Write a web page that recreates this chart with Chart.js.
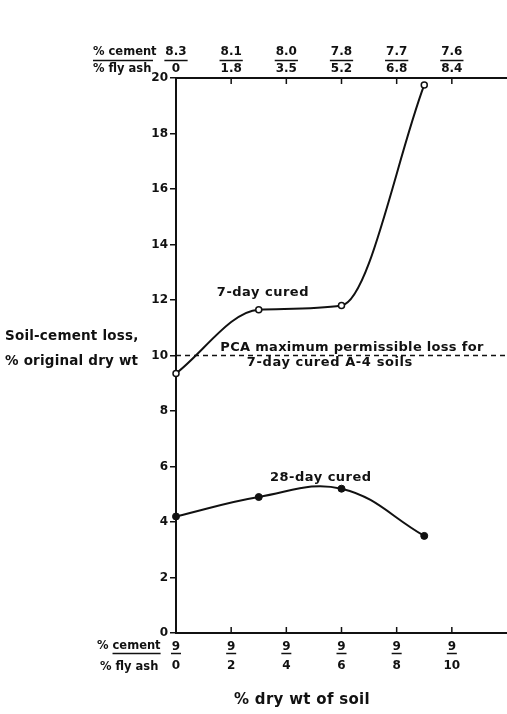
<!DOCTYPE html>
<html>
<head>
<meta charset="utf-8">
<script src="https://cdn.jsdelivr.net/npm/chart.js@4.4.1/dist/chart.umd.min.js"></script>
<style>
  html, body { margin: 0; padding: 0; background: #ffffff; }
  #wrap { width: 507px; height: 714px; }
</style>
</head>
<body>
<div id="wrap"><canvas id="c" width="507" height="714"></canvas></div>
<script>
// ---- data ----
const flyAshPercent = [0, 3, 6, 9];
const loss7Day = [9.35, 11.65, 11.8, 19.75];
const loss28Day = [4.2, 4.9, 5.2, 3.5];
const pcaLimit = 10;
const xTickValues = [0, 2, 4, 6, 8, 10];
const cementBottomLabels = ['9', '9', '9', '9', '9', '9'];
const flyAshBottomLabels = ['0', '2', '4', '6', '8', '10'];
const cementTopLabels = ['8.3', '8.1', '8.0', '7.8', '7.7', '7.6'];
const flyAshTopLabels = ['0', '1.8', '3.5', '5.2', '6.8', '8.4'];

const FONT = 'DejaVu Sans';
const INK = '#111111';

function pts(xs, ys) { return xs.map((x, i) => ({ x: x, y: ys[i] })); }

const textPlugin = {
  id: 'textPlugin',
  afterDraw(chart) {
    const ctx = chart.ctx;
    const xs = chart.scales.x, ys = chart.scales.y;
    const area = chart.chartArea;
    ctx.save();
    ctx.fillStyle = INK;
    ctx.strokeStyle = INK;

    // inner tick marks on top and bottom axes
    ctx.lineWidth = 1.5;
    xTickValues.forEach(v => {
      const px = xs.getPixelForValue(v);
      ctx.beginPath();
      ctx.moveTo(px, area.bottom); ctx.lineTo(px, area.bottom - 6);
      ctx.moveTo(px, area.top); ctx.lineTo(px, area.top + 6);
      ctx.stroke();
    });

    const txt = (s, x, y, size, align, spacing) => {
      ctx.font = 'bold ' + size + 'px "' + FONT + '"';
      ctx.letterSpacing = (spacing || 0) + 'px';
      ctx.textAlign = align || 'center';
      ctx.textBaseline = 'middle';
      ctx.fillText(s, x, y);
      return ctx.measureText(s).width;
    };

    // y-axis title
    txt('Soil-cement loss,', 5, 336, 13.5, 'left', 0.2);
    txt('% original dry wt', 5, 361, 13.5, 'left', 0.2);

    // curve annotations (anchored in data space)
    txt('7-day cured', xs.getPixelForValue(3.15), ys.getPixelForValue(12.25), 13, 'center', 0.5);
    txt('28-day cured', xs.getPixelForValue(5.25), ys.getPixelForValue(5.6), 13, 'center', 0.5);
    txt('PCA maximum permissible loss for', xs.getPixelForValue(6.38), ys.getPixelForValue(10.3), 13, 'center', 0.3);
    txt('7-day cured A-4 soils', xs.getPixelForValue(5.58), ys.getPixelForValue(9.75), 13, 'center', 0.6);

    // row labels of the top axis
    ctx.lineWidth = 1.5;
    txt('% cement', 93, 52, 11.5, 'left');
    txt('% fly ash', 93, 69, 11.5, 'left');
    ctx.beginPath(); ctx.moveTo(93, 60.5); ctx.lineTo(153, 60.5); ctx.stroke();

    // underline between top numbers
    ctx.font = 'bold 12px "' + FONT + '"';
    ctx.letterSpacing = '0px';
    cementTopLabels.forEach((s, i) => {
      const px = xs.getPixelForValue(xTickValues[i]);
      const w = ctx.measureText(s).width;
      ctx.beginPath(); ctx.moveTo(px - w / 2 - 1, 60.5); ctx.lineTo(px + w / 2 + 1, 60.5); ctx.stroke();
    });

    // row labels of the bottom axis
    const wPct = txt('% ', 97, 646, 11.5, 'left');
    const wCem = txt('cement', 97 + wPct, 646, 11.5, 'left');
    ctx.beginPath(); ctx.moveTo(97 + wPct, 653.5); ctx.lineTo(97 + wPct + wCem, 653.5); ctx.stroke();
    txt('% fly ash', 100, 667, 11.5, 'left');
    cementBottomLabels.forEach((s, i) => {
      const px = xs.getPixelForValue(xTickValues[i]);
      ctx.beginPath(); ctx.moveTo(px - 5, 653.5); ctx.lineTo(px + 5, 653.5); ctx.stroke();
    });

    // x-axis title
    txt('% dry wt of soil', 302, 700, 15, 'center', 0.3);
    ctx.restore();
  }
};

function fixX(h) {
  return function (s) { s.height = h; s.paddingLeft = 0; s.paddingRight = 0; };
}

new Chart(document.getElementById('c'), {
  type: 'line',
  data: {
    datasets: [
      {
        label: '7-day cured',
        data: pts(flyAshPercent, loss7Day),
        borderColor: INK, borderWidth: 2,
        cubicInterpolationMode: 'monotone',
        pointRadius: 3, pointBorderWidth: 1.5,
        pointBackgroundColor: '#ffffff', pointBorderColor: INK,
        clip: false
      },
      {
        label: '28-day cured',
        data: pts(flyAshPercent, loss28Day),
        borderColor: INK, borderWidth: 2,
        tension: 0.4,
        pointRadius: 3.5, pointBorderWidth: 1,
        pointBackgroundColor: INK, pointBorderColor: INK,
        clip: false
      },
      {
        label: 'PCA maximum permissible loss',
        data: [{ x: 0, y: pcaLimit }, { x: 12, y: pcaLimit }],
        borderColor: INK, borderWidth: 1.5,
        borderDash: [5, 4],
        pointRadius: 0
      }
    ]
  },
  options: {
    responsive: false,
    animation: false,
    devicePixelRatio: 1,
    layout: { padding: 0, autoPadding: false },
    plugins: { legend: { display: false }, tooltip: { enabled: false } },
    scales: {
      x: {
        type: 'linear', position: 'bottom', min: 0, max: 12,
        afterFit: fixX(81),
        afterBuildTicks(s) { s.ticks = xTickValues.map(v => ({ value: v })); },
        grid: { display: true, drawOnChartArea: false, drawTicks: false },
        border: { display: true, color: INK, width: 2 },
        ticks: {
          padding: 4, color: INK, maxRotation: 0, autoSkip: false,
          font: { family: FONT, weight: 'bold', size: 12, lineHeight: 1.6 },
          callback(v) { const i = xTickValues.indexOf(v); return i < 0 ? '' : [cementBottomLabels[i], flyAshBottomLabels[i]]; }
        }
      },
      x2: {
        type: 'linear', position: 'top', min: 0, max: 12,
        afterFit: fixX(78),
        afterBuildTicks(s) { s.ticks = xTickValues.map(v => ({ value: v })); },
        grid: { display: true, drawOnChartArea: false, drawTicks: false },
        border: { display: true, color: INK, width: 2 },
        ticks: {
          padding: 1, color: INK, maxRotation: 0, autoSkip: false,
          font: { family: FONT, weight: 'bold', size: 12, lineHeight: 1.4 },
          callback(v) { const i = xTickValues.indexOf(v); return i < 0 ? '' : [cementTopLabels[i], flyAshTopLabels[i]]; }
        }
      },
      y: {
        type: 'linear', position: 'left', min: 0, max: 20,
        afterFit(s) { s.width = 176; s.paddingTop = 0; s.paddingBottom = 0; },
        grid: { display: true, drawOnChartArea: false, drawTicks: true, tickLength: 6, color: INK, lineWidth: 1.5 },
        border: { display: true, color: INK, width: 2 },
        ticks: {
          stepSize: 2, padding: 2, color: INK,
          font: { family: FONT, weight: 'bold', size: 12 }
        }
      }
    }
  },
  plugins: [textPlugin]
});
</script>
</body>
</html>
